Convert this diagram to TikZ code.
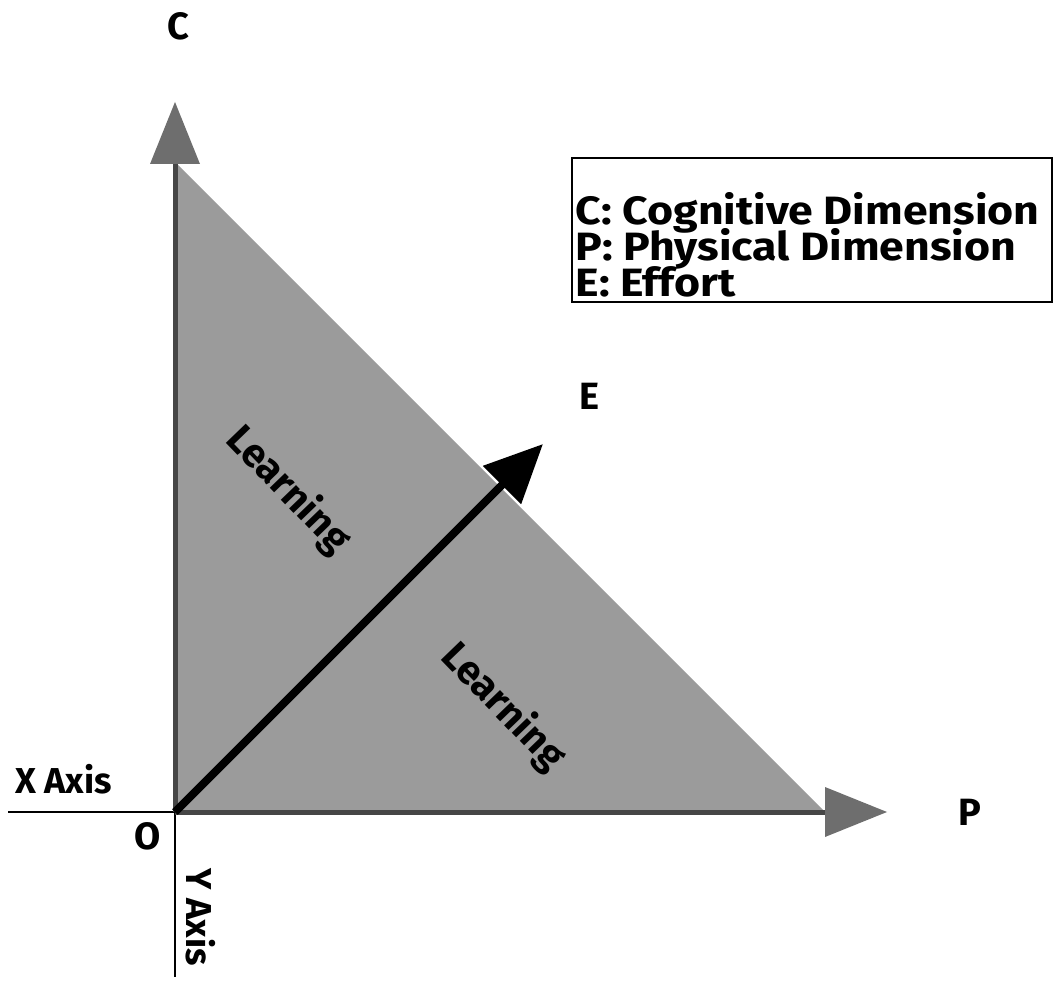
\documentclass[tikz,border=0pt]{standalone}
\usepackage{fontspec}
\setmainfont{Fira Sans}
\usetikzlibrary{arrows.meta}

\newcommand{\keyfont}{\bfseries\fontsize{39.5}{36}\selectfont\lineskiplimit=-100pt\relax}

\tikzset{
  lbl/.style={font=\bfseries\fontsize{38}{40}\selectfont, inner sep=0pt},
  small/.style={font=\bfseries\fontsize{36}{38}\selectfont, inner sep=0pt},
  learn/.style={font=\bfseries\fontsize{40}{42}\selectfont, inner sep=0pt, rotate=-46},
  axisarrow/.style={draw=axisgray, line width=5pt,
    -{Triangle[length=62pt,width=50pt,line width=0pt,fill=headgray]}},
  effort/.style={draw=black, line width=8pt, -{Triangle[length=58pt,width=52pt]}},
  refline/.style={draw=black, line width=1.3pt},
  keybox/.style={draw=black, line width=1.3pt, minimum width=480pt, minimum height=144pt, inner sep=0pt},
  keytext/.style={align=left, inner sep=0pt, font=\keyfont, xscale=1.13, transform shape}
}

\begin{document}
\begin{tikzpicture}[x=1pt,y=-1pt]
\useasboundingbox (0,0) rectangle (1053,981);

\definecolor{fillgray}{RGB}{155,155,155}
\definecolor{axisgray}{RGB}{70,70,70}
\definecolor{headgray}{RGB}{110,110,110}

\coordinate (O) at (175,812);
\coordinate (Ctip) at (175,102);
\coordinate (Ptip) at (887,812);
\coordinate (Etip) at (543,444);
\coordinate (Xend) at (8,812);
\coordinate (Yend) at (175,977);

% learning region
\fill[fillgray] (175,162) -- (O) -- (825,812) -- cycle;

\draw[refline] (Xend) -- (O);
\draw[refline] (O) -- (Yend);

\draw[axisarrow] (O) -- (Ctip);
\draw[axisarrow] (O) -- (Ptip);
\draw[effort] (O) -- (Etip);

\node[lbl] (C) at (178,26) {C};
\node[lbl] (P) at (970,812) {P};
\node[lbl] (E) at (589,396) {E};
\node[lbl] (O label) at (148,836) {O};
\node[small,anchor=base west] (X axis) at (15,793) {X Axis};
\node[small,rotate=-90] (Y axis) at (201,917) {Y Axis};

\node[learn] (learn up) at (288,490) {Learning};
\node[learn] (learn down) at (503,707) {Learning};

% key
\node[keybox] (key) at (812,230) {};
\node[keytext,anchor=west] (key text) at ([xshift=4pt,yshift=-15pt]key.west)
  {C: Cognitive Dimension\\P: Physical Dimension\\E: Effort};

\end{tikzpicture}
\end{document}
